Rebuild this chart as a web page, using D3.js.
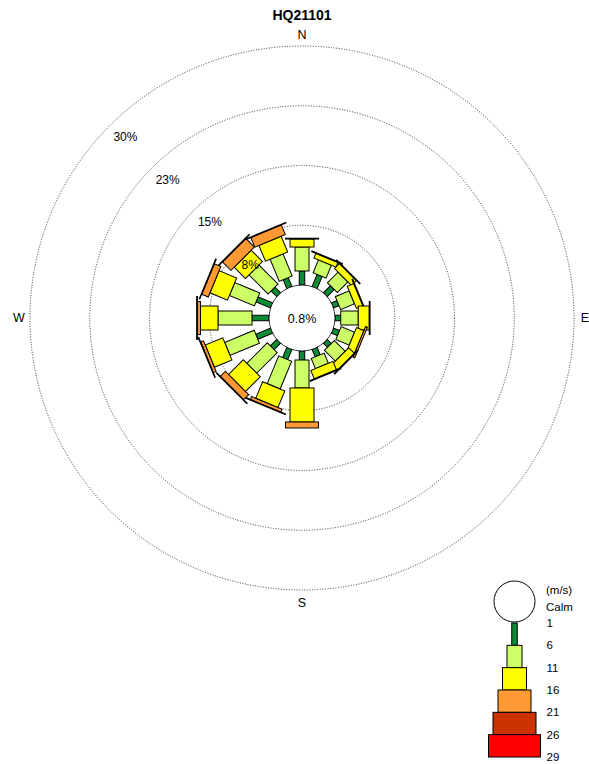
<!DOCTYPE html>
<html>
<head>
<meta charset="utf-8">
<script src="https://cdn.jsdelivr.net/npm/d3@7"></script>
<style>
  html, body { margin: 0; padding: 0; background: #fff; }
  svg { display: block; font-family: "Liberation Sans", Arial, Helvetica, sans-serif; }
</style>
</head>
<body>
<svg id="rose" width="589" height="764"></svg>
<script>
// Station and calm share
const title = "HQ21101";
const calmPct = 0.8;

// 16 wind directions, clockwise from north
const directions = ["N","NNE","NE","ENE","E","ESE","SE","SSE","S","SSW","SW","WSW","W","WNW","NW","NNW"];

// Frequency (%) per direction for each wind-speed class (m/s)
const speed1to6   = [1.76, 1.63, 1.25, 0.75, 0.72, 0.82, 0.72, 1.00, 1.13, 1.38, 1.13, 2.00, 2.13, 1.96, 1.00, 1.20];
const speed6to11  = [3.01, 1.76, 1.88, 1.88, 2.20, 1.82, 1.92, 1.38, 3.51, 3.76, 3.64, 4.00, 4.27, 3.40, 3.39, 3.00];
const speed11to16 = [1.00, 0.63, 0.88, 0.88, 1.38, 1.00, 1.00, 1.13, 4.27, 2.26, 2.63, 2.38, 2.20, 2.38, 2.00, 2.14];
const speed16to21 = [0.10, 0.10, 0.10, 0.10, 0.10, 0.25, 0.10, 0.10, 0.75, 0.38, 0.88, 0.38, 0.38, 0.88, 1.50, 1.30];
const speed21to26 = [0.00, 0.00, 0.00, 0.00, 0.00, 0.00, 0.00, 0.00, 0.00, 0.08, 0.08, 0.08, 0.10, 0.08, 0.08, 0.08];
const speed26to29 = [0.00, 0.00, 0.00, 0.00, 0.00, 0.00, 0.00, 0.00, 0.00, 0.00, 0.00, 0.00, 0.00, 0.00, 0.00, 0.00];

// Speed class boundaries shown in the legend
const speedBreaks = ["1", "6", "11", "16", "21", "26", "29"];
const speedUnit = "(m/s)";

// Percentage rings and their printed labels
const ringValues = [7.5, 15, 22.5, 30];
const ringLabels = ["8%", "15%", "23%", "30%"];
const compass = ["N", "E", "S", "W"];

const classSeries = [speed1to6, speed6to11, speed11to16, speed16to21, speed21to26, speed26to29];
const classColors = ["#0a8c34", "#ccff66", "#ffff00", "#ff9933", "#cc3300", "#ff0000"];
const classWidths = [5.5, 14, 24, 33, 43, 52];

const svg = d3.select("#rose");
const cx = 302, cy = 318;
const calmR = 33;

const r = d3.scaleLinear().domain([0, 30]).range([calmR, 272]);
const angle = d3.scaleLinear().domain([0, directions.length]).range([0, 360]);

// Title
svg.append("text")
  .attr("x", cx).attr("y", 20)
  .attr("text-anchor", "middle")
  .attr("font-size", 14).attr("font-weight", "bold")
  .text(title);

// Compass letters
const compassPos = {
  N: [cx, 38.5, "middle"],
  E: [585, 322, "middle"],
  S: [cx, 607, "middle"],
  W: [19, 322, "middle"]
};
compass.forEach(k => {
  const p = compassPos[k];
  svg.append("text").attr("x", p[0]).attr("y", p[1])
    .attr("text-anchor", p[2]).attr("font-size", 12.5).text(k);
});

const rose = svg.append("g").attr("transform", `translate(${cx},${cy})`);

// Dotted percentage rings
rose.selectAll("circle.ring").data(ringValues).join("circle")
  .attr("class", "ring")
  .attr("r", d => r(d))
  .attr("fill", "none")
  .attr("stroke", "#222")
  .attr("stroke-width", 0.9)
  .attr("stroke-dasharray", "1,1.6");

// Ring labels along the north-west diagonal (the innermost is drawn above the bars)
const labelPos = d => {
  const rr = r(d) - 18;
  const a = -45 * Math.PI / 180;
  return [rr * Math.sin(a) + 3, -rr * Math.cos(a) - 1];
};
rose.selectAll("text.ringlabel").data(ringValues.slice(1)).join("text")
  .attr("class", "ringlabel")
  .attr("x", d => labelPos(d)[0])
  .attr("y", d => labelPos(d)[1] + 4)
  .attr("text-anchor", "middle")
  .attr("font-size", 12)
  .text((d, i) => ringLabels[i + 1]);

// Stacked speed-class bars for each direction
const stacks = directions.map((dir, i) => {
  let acc = 0;
  const segs = classSeries.map((s, k) => {
    const v = s[i];
    const seg = { k, start: acc, end: acc + v, v };
    acc += v;
    return seg;
  }).filter(s => s.v > 0);
  return { dir, i, segs };
});

const bars = rose.selectAll("g.dir").data(stacks).join("g")
  .attr("class", "dir")
  .attr("transform", d => `rotate(${angle(d.i)})`);

bars.selectAll("rect").data(d => d.segs).join("rect")
  .attr("x", d => -classWidths[d.k] / 2)
  .attr("width", d => classWidths[d.k])
  .attr("y", d => -r(d.end))
  .attr("height", d => r(d.end) - r(d.start))
  .attr("fill", d => classColors[d.k])
  .attr("stroke", "#000")
  .attr("stroke-width", 1);

// Calm circle
rose.append("circle")
  .attr("r", calmR)
  .attr("fill", "#fff")
  .attr("stroke", "#000")
  .attr("stroke-width", 0.8);

rose.append("text")
  .attr("x", 0).attr("y", 4.5)
  .attr("text-anchor", "middle")
  .attr("font-size", 12.5)
  .text(calmPct + "%");

rose.append("text")
  .attr("x", labelPos(ringValues[0])[0] - 2)
  .attr("y", labelPos(ringValues[0])[1] + 5)
  .attr("text-anchor", "middle")
  .attr("font-size", 12)
  .text(ringLabels[0]);

// Legend
const lx = 514.5;
const legend = svg.append("g");
const ly = d3.scaleLinear().domain([0, classSeries.length]).range([623, 757]);

legend.append("circle")
  .attr("cx", lx).attr("cy", 601.5).attr("r", 20.5)
  .attr("fill", "#fff").attr("stroke", "#000").attr("stroke-width", 1);

legend.selectAll("rect").data(classColors).join("rect")
  .attr("x", (d, k) => lx - classWidths[k] / 2 - (k === 1 ? 0.5 : 0))
  .attr("width", (d, k) => classWidths[k] + (k === 1 ? 1 : 0))
  .attr("y", (d, k) => ly(k))
  .attr("height", (d, k) => ly(k + 1) - ly(k))
  .attr("fill", d => d)
  .attr("stroke", "#000")
  .attr("stroke-width", 1);

const legendText = [speedUnit, "Calm"];
legend.selectAll("text.head").data(legendText).join("text")
  .attr("class", "head")
  .attr("x", 546).attr("y", (d, i) => 594 + i * 17)
  .attr("font-size", 11.5)
  .text(d => d);

legend.selectAll("text.brk").data(speedBreaks).join("text")
  .attr("class", "brk")
  .attr("x", 546.5).attr("y", (d, i) => ly(i) + 4)
  .attr("font-size", 11.5)
  .text(d => d);
</script>
</body>
</html>
